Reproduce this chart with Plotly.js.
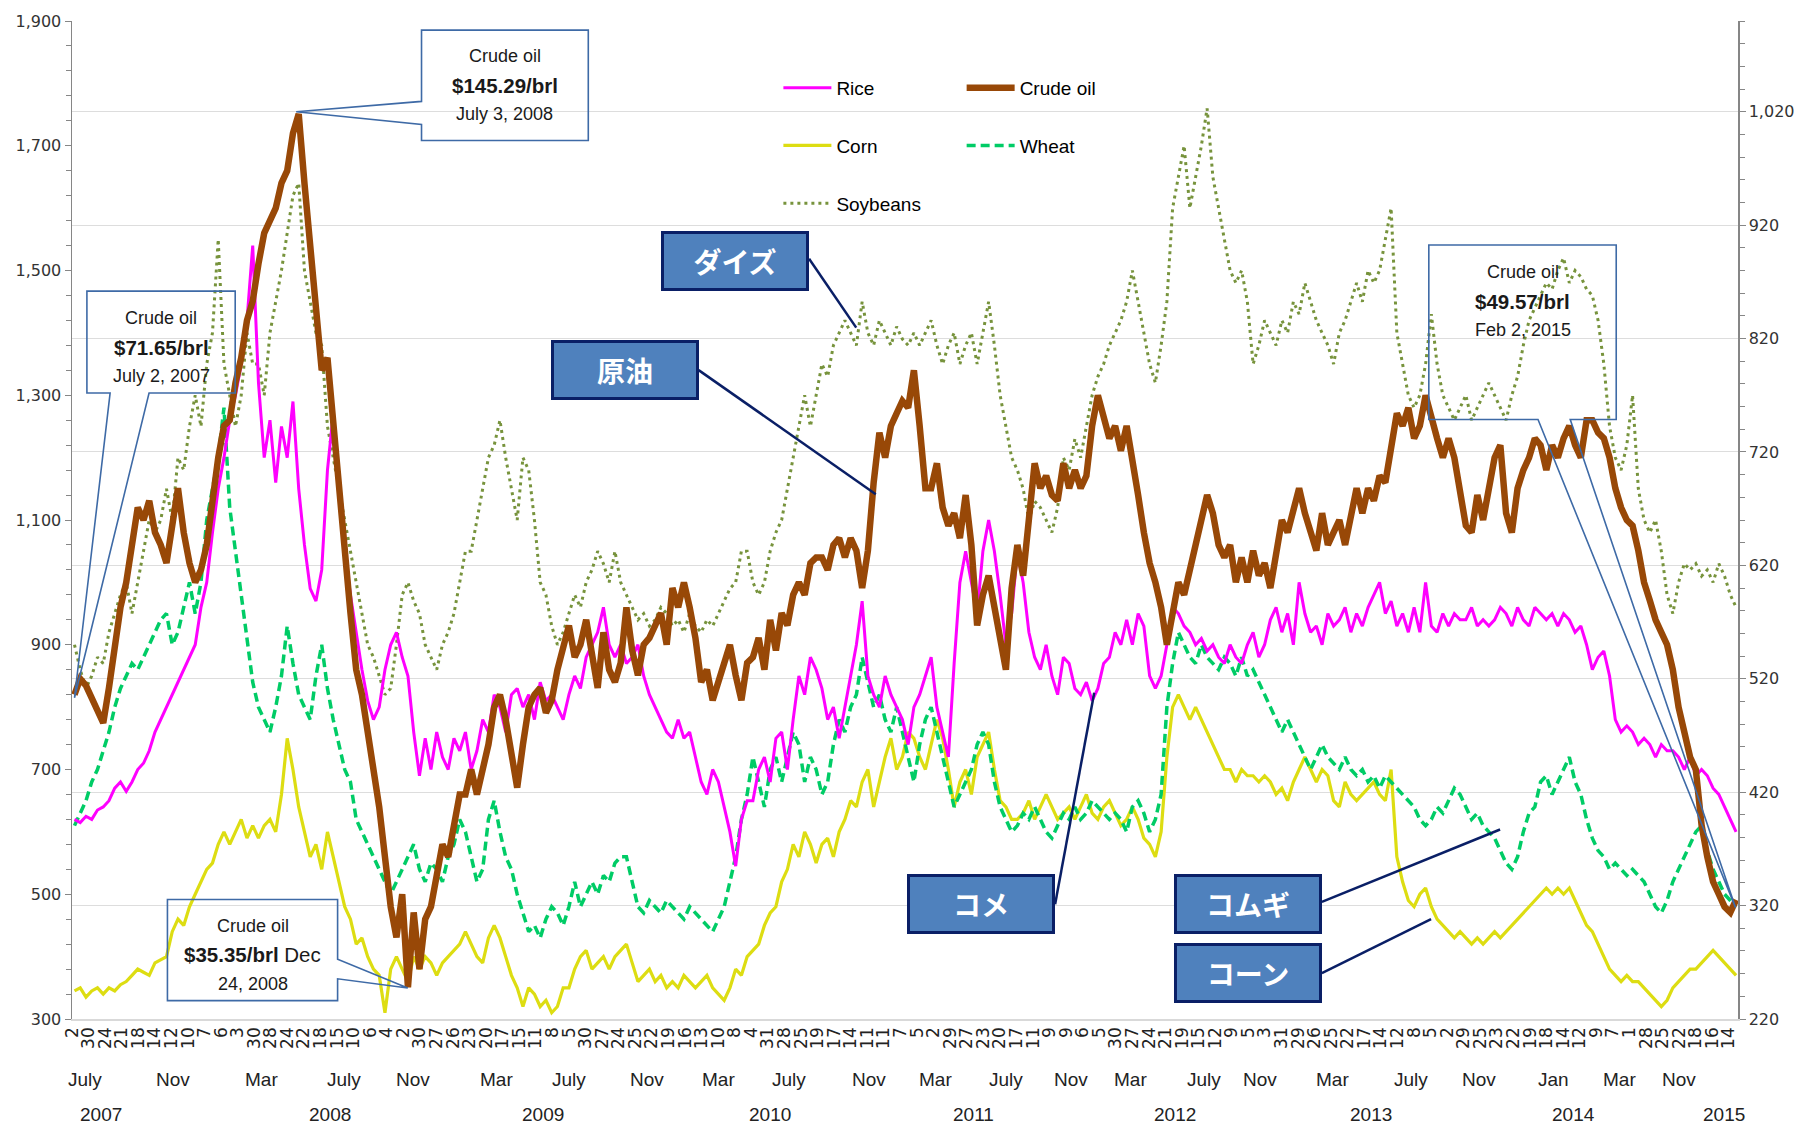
<!DOCTYPE html>
<html><head><meta charset="utf-8">
<script src="https://cdn.plot.ly/plotly-3.0.1.min.js"></script>
<style>html,body{margin:0;padding:0;background:#fff;} #chart{width:1802px;height:1126px;}</style>
</head><body><div id="chart"></div>
<script>
// ---- tick labels (day of month, one every 20 trading days) ----
const tickDays = [2,30,24,21,18,14,12,10,7,6,3,30,28,24,22,18,15,10,6,4,2,30,27,26,23,20,17,15,11,8,5,30,27,24,
  25,22,19,16,13,10,8,4,31,28,25,19,17,14,11,11,7,
  5,2,29,27,23,20,17,11,9,9,6,5,30,27,24,21,19,
  15,12,9,5,3,31,29,26,25,22,17,14,12,8,5,2,29,
  25,23,22,19,18,14,12,9,7,1,28,25,22,18,16,14];
const monthLabels = ['July','Nov','Mar','July','Nov','Mar','July','Nov','Mar','July','Nov','Mar','July','Nov','Mar','July','Nov','Mar','July','Nov','Jan','Mar','Nov','Feb'];
const yearLabels = ['2007','2008','2009','2010','2011','2012','2013','2014','2015'];

// ---- series (weekly-ish samples, left axis: Rice, Corn, Wheat, Soybeans; right axis: Crude oil) ----
const rice = [620,615,625,620,635,640,650,670,680,665, 680,700,710,730,760,780,800,820,840,860,
 880,900,960,1000,1080,1150,1200,1260,1300,1350, 1420,1540,1320,1200,1260,1160,1250,1200,1290,1150,
 1060,990,970,1020,1180,1270,1150,1050,980,920, 860,810,780,800,860,900,920,880,850,760,
 690,750,700,760,720,700,750,730,760,700, 730,780,760,820,800,760,820,830,800,820,
 780,840,810,820,800,780,820,850,830,880, 900,920,960,900,880,900,870,880,900,850,
 820,800,780,760,750,780,750,760,720,680, 660,700,680,640,600,545,620,650,650,700,
 720,680,750,760,700,780,850,820,880,860, 830,780,800,750,800,850,900,970,850,820,
 800,850,820,800,780,740,800,820,850,880, 800,760,720,870,1000,1050,1000,950,1050,1100,
 1050,980,900,950,1050,1000,920,880,860,900, 850,820,880,870,830,820,840,810,830,870,
 880,920,900,940,900,950,930,850,830,850, 900,960,950,930,920,900,910,890,900,880,
 870,900,880,870,900,920,880,900,940,960, 920,950,900,1000,950,920,930,900,950,930,
 940,960,920,950,930,960,980,1000,950,970, 930,950,920,960,920,1000,930,920,950,930,
 950,940,940,960,930,940,930,940,960,950, 930,960,940,930,960,950,940,950,930,950,
 940,920,930,900,860,880,890,850,780,760, 770,760,740,750,740,720,740,730,730,720,
 700,720,690,700,690,670,660,640,620,600];
const crudeOil = [506,520,514,503,490,481,512,550,583,605, 638,671,660,677,649,638,622,655,688,649,
 622,605,616,638,682,715,743,748,781,803, 836,853,886,913,924,935,957,968,1001,1018,
 957,902,836,792,803,743,688,627,578,528, 506,473,440,407,363,319,292,330,248,314,
 264,308,319,347,374,363,391,418,418,440, 418,440,462,495,506,484,451,424,462,495,
 506,512,490,501,528,550,567,539,550,572, 539,512,561,528,517,534,583,545,523,550,
 556,567,578,550,600,583,605,583,556,517, 528,501,517,534,550,523,501,534,539,556,
 528,572,545,578,567,594,605,594,622,627, 627,616,638,644,627,644,633,600,633,693,
 737,715,743,754,765,759,792,743,688,688, 710,671,655,666,644,682,638,567,594,611,
 583,556,528,600,638,611,666,710,688,699, 682,677,710,688,704,688,699,743,770,748,
 732,743,721,743,715,682,649,622,605,583, 550,578,605,594,616,638,660,682,666,638,
 627,638,605,627,605,633,611,622,600,633, 660,649,671,688,666,649,633,666,638,649,
 660,638,666,688,666,688,677,699,693,726, 754,743,759,732,743,770,748,732,715,732,
 715,688,655,649,682,660,688,715,726,666, 649,688,704,715,732,726,704,726,715,732,
 743,726,715,748,748,737,732,715,688,671, 660,655,633,605,589,572,561,550,528,495,
 473,451,440,391,363,341,330,319,314,325];
const corn = [345,350,335,345,350,340,350,345,355,360, 370,380,375,370,390,395,400,440,460,450,
 480,500,520,540,550,580,600,580,600,620, 590,610,590,610,620,600,660,750,700,640,
 600,560,580,540,600,560,520,480,460,420, 430,400,380,370,310,380,400,380,360,400,
 380,400,390,370,390,400,410,420,440,420, 400,390,430,450,430,400,370,350,320,350,
 340,320,330,310,320,350,350,380,400,410, 380,390,400,380,400,410,420,390,360,370,
 380,360,370,350,360,350,370,360,350,360, 370,350,340,330,350,380,370,400,410,420,
 450,470,480,520,540,580,560,600,580,550, 580,590,560,600,620,650,640,680,700,640,
 680,720,750,700,720,760,750,720,700,740, 780,750,700,640,680,700,660,720,740,760,
 700,650,640,620,620,630,650,620,640,660, 640,620,630,640,620,640,660,630,620,640,
 650,630,610,620,640,620,590,580,560,600, 720,800,820,800,780,800,780,760,740,720,
 700,700,680,700,690,690,680,690,680,660, 670,650,680,700,720,700,680,700,690,650,
 640,680,660,650,660,670,680,660,650,700, 560,520,490,480,500,510,480,460,450,440,
 430,440,430,420,430,420,430,440,430,440, 450,460,470,480,490,500,510,500,510,500,
 510,490,470,450,440,420,400,380,370,360, 370,360,360,350,340,330,320,330,350,360,
 370,380,380,390,400,410,400,390,380,370];
const wheat = [610,630,650,680,700,730,760,800,830,850, 870,860,880,900,920,940,950,900,920,960,
 1000,950,1000,1100,1150,1200,1280,1120,1050,980, 900,840,800,780,760,800,850,930,870,820,
 800,780,850,900,830,780,740,700,680,620, 600,580,560,540,520,500,520,540,560,580,
 540,520,550,540,520,560,580,620,600,560, 520,540,620,650,600,560,540,500,470,440,
 450,430,460,480,470,450,480,520,480,500, 520,500,530,520,550,560,560,520,480,470,
 490,480,470,490,480,470,460,480,470,460, 450,440,460,480,520,560,620,660,720,680,
 640,700,720,680,720,760,740,680,720,700, 660,680,740,780,760,800,820,880,840,800,
 820,780,760,800,760,720,680,740,780,800, 760,720,680,640,660,680,700,740,760,740,
 680,640,620,600,610,630,620,640,620,600, 590,610,630,620,640,620,630,650,640,630,
 620,630,620,600,640,650,630,600,620,660, 800,870,920,900,880,870,900,880,870,860,
 880,870,850,880,850,860,840,820,800,780, 760,780,760,740,720,700,720,740,720,710,
 700,720,700,690,700,680,690,670,690,680, 670,660,650,640,620,610,620,640,630,650,
 670,660,640,620,630,610,600,590,570,550, 540,560,600,630,640,680,690,660,680,700,
 720,680,660,620,590,570,560,540,550,540, 530,540,530,520,500,480,470,490,520,540,
 560,580,600,610,570,540,520,500,490,480];
const soybeans = [900,860,830,850,880,870,920,950,980,1000, 950,1000,1050,1100,1080,1100,1150,1100,1200,1180,
 1250,1300,1250,1350,1400,1550,1350,1300,1250,1300, 1400,1350,1350,1300,1400,1450,1500,1560,1620,1640,
 1500,1450,1400,1380,1250,1200,1150,1100,1050,1000, 950,900,880,850,820,830,900,980,1000,970,
 950,900,880,860,900,920,950,1000,1050,1050, 1100,1150,1200,1220,1260,1200,1150,1100,1200,1180,
 1100,1000,980,930,900,920,950,980,960,1000, 1020,1050,1030,1000,1050,1000,980,960,940,950,
 930,940,960,950,930,940,920,950,930,920, 940,930,950,970,990,1000,1050,1050,1000,980,
 1000,1050,1080,1100,1150,1200,1250,1300,1250,1300, 1350,1330,1380,1400,1420,1400,1380,1450,1400,1380,
 1420,1400,1380,1410,1390,1380,1400,1380,1400,1420, 1380,1350,1380,1400,1350,1380,1400,1350,1400,1450,
 1380,1300,1250,1200,1180,1150,1100,1130,1120,1100, 1080,1120,1200,1180,1230,1200,1250,1300,1330,1350,
 1380,1400,1420,1450,1500,1450,1400,1350,1320,1380, 1450,1600,1650,1700,1600,1650,1700,1760,1650,1600,
 1550,1500,1480,1500,1450,1350,1380,1420,1400,1380, 1420,1400,1450,1430,1480,1450,1420,1400,1380,1350,
 1400,1420,1450,1480,1450,1500,1480,1500,1550,1600, 1400,1350,1300,1280,1300,1350,1430,1350,1300,1280,
 1260,1280,1300,1260,1280,1300,1320,1300,1280,1260, 1300,1330,1380,1420,1440,1460,1480,1470,1500,1520,
 1480,1500,1490,1470,1460,1420,1350,1250,1200,1180, 1220,1300,1150,1100,1080,1100,1050,980,950,1000,
 1030,1020,1030,1010,1020,1000,1030,1010,980,960];

// ---- category positions: trading-day index; ticks every 20 trading days ----
const TICK_EVERY = 20, SAMPLE_STEP = 6.94, SAMPLE_START = 3, X_MAX = 2011;
const xs = n => Array.from({length:n}, (_, j) => SAMPLE_START + j*SAMPLE_STEP);
const tickvals = tickDays.map((_, i) => i*TICK_EVERY);
const monthAt = [0.76,6.1,11.44,16.4,20.6,25.6,30.0,34.7,39.0,43.3,48.1,52.1,56.4,60.3,63.9,68.3,71.7,76.1,80.8,84.9,89.4,93.4,97.0,100.8];
const yearAt = [1.73,15.6,28.4,42.1,54.4,66.6,78.4,90.6,99.7];

const SANS = 'Liberation Sans, Arial, sans-serif';
const LEG_FONT = {family:SANS, size:19, color:'#000'};
const traces = [
  {name:'Soybeans', y:soybeans, line:{color:'#77933C', width:3, dash:'3px,4px'}, legend:'legend', legendrank:3},
  {name:'Corn', y:corn, line:{color:'#DDDD12', width:3.2}, legend:'legend', legendrank:2},
  {name:'Wheat', y:wheat, line:{color:'#00CC66', width:3.5, dash:'9px,5px'}, legend:'legend2', legendrank:2},
  {name:'Rice', y:rice, line:{color:'#FF00FF', width:3}, legend:'legend', legendrank:1},
  {name:'Crude oil', y:crudeOil, yaxis:'y2', line:{color:'#984807', width:6.5}, legend:'legend2', legendrank:1}
].map(t => Object.assign({type:'scatter', mode:'lines', x:xs(t.y.length), legendgroup:t.name, hoverinfo:'skip'}, t));

const annotations = [];
monthLabels.forEach((m, i) => annotations.push({xref:'x', yref:'paper', x:monthAt[i]*TICK_EVERY, y:-0.061, text:m, showarrow:false, font:{family:SANS, size:19, color:'#222'}, yanchor:'middle'}));
yearLabels.forEach((m, i) => annotations.push({xref:'x', yref:'paper', x:yearAt[i]*TICK_EVERY, y:-0.096, text:m, showarrow:false, font:{family:SANS, size:19, color:'#222'}, yanchor:'middle'}));

// callout boxes (Crude oil), three text lines each
const LINE_GAP = 46.5; // left-axis units between text lines
const LINE_SIZE = [18, 20.5, 18];
const callouts = [
  {x:107.5, y:1377, lines:['Crude oil','<b>$71.65/brl</b>','July 2, 2007'],
   path:'M18,1467 L197,1467 L197,1303.5 L93,1303.5 L3,815 L46,1303.5 L18,1303.5 Z'},
  {x:522.5, y:1797, lines:['Crude oil','<b>$145.29/brl</b>','July 3, 2008'],
   path:'M421.9,1885.3 L623.2,1885.3 L623.2,1708.5 L421.9,1708.5 L421.9,1734.3 L270.6,1754.5 L421.9,1771.1 Z'},
  {x:217.9, y:403, lines:['Crude oil','<b>$35.35/brl</b> Dec','24, 2008'],
   path:'M115.2,491.5 L320.6,491.5 L320.6,395.7 L405.3,349.7 L320.6,364.4 L320.6,329.5 L115.2,329.5 Z'},
  {x:1751, y:1451, lines:['Crude oil','<b>$49.57/brl</b>','Feb 2, 2015'],
   path:'M1637.8,1541 L1864,1541 L1864,1261.1 L1808.5,1261.1 L2008,478.6 L1769.6,1261.1 L1637.8,1261.1 Z'}
];
const shapes = [];
callouts.forEach(c => {
  shapes.push({type:'path', xref:'x', yref:'y', path:c.path, line:{color:'#3E6AA6', width:1.6}, fillcolor:'rgba(0,0,0,0)', layer:'above'});
  c.lines.forEach((t, k) => annotations.push({xref:'x', yref:'y', x:c.x, y:c.y + (1-k)*LINE_GAP, text:t, showarrow:false,
    font:{family:SANS, size:LINE_SIZE[k], color:'#1a1a1a'}, align:'center', yanchor:'middle'}));
});

// Japanese labels
const JP = [
  {x:800.1, y:1515, text:'ダイズ', line:[889.7,1518.9,946.6,1408.4]},
  {x:667.6, y:1341, text:'原油', line:[756.4,1340.3,970.2,1141.4]},
  {x:1097.8, y:484, text:'コメ', line:[1186.7,484.1,1233.9,822.9]},
  {x:1419.8, y:484, text:'コムギ', line:[1508.7,487.8,1723.8,603.8]},
  {x:1419.8, y:374, text:'コーン', line:[1508.7,373.6,1640.5,460.2]}
];
JP.forEach(j => {
  shapes.push({type:'line', xref:'x', yref:'y', x0:j.line[0], y0:j.line[1], x1:j.line[2], y1:j.line[3], line:{color:'#0A1F66', width:2.5}, layer:'above'});
  annotations.push({xref:'x', yref:'y', x:j.x, y:j.y, text:'<b>'+j.text+'</b>', showarrow:false,
    font:{family:'Noto Sans CJK JP, sans-serif', size:28, color:'#fff'}, bgcolor:'#4F81BD', bordercolor:'#0A1F66', borderwidth:3, borderpad:0, width:142, height:54, align:'center', valign:'middle'});
});

const TICKFONT = {family:'DejaVu Sans, Verdana, sans-serif', size:16, color:'#333'};
const layout = {
  width:1802, height:1126, margin:{l:72, r:64, t:21, b:107},
  paper_bgcolor:'#fff', plot_bgcolor:'#fff', showlegend:true,
  xaxis:{range:[0, X_MAX], tickmode:'array', tickvals:tickvals, ticktext:tickDays.map(String), tickangle:-90,
    tickfont:{family:'DejaVu Sans, Verdana, sans-serif', size:17, color:'#222'}, ticks:'', showgrid:false, zeroline:false,
    showline:true, linecolor:'#D9D9D9', linewidth:1.5},
  yaxis:{range:[300,1900], tick0:300, dtick:200, tickformat:',d', tickfont:TICKFONT, ticks:'outside', ticklen:6, tickcolor:'#868686',
    showline:true, linecolor:'#868686', linewidth:1.5, showgrid:false, zeroline:false,
    minor:{tick0:300, dtick:40, ticks:'outside', ticklen:5, tickcolor:'#868686', showgrid:false}},
  yaxis2:{range:[220,1100], tick0:220, dtick:100, tickformat:',d', tickfont:TICKFONT, ticks:'outside', ticklen:6, tickcolor:'#868686',
    overlaying:'y', side:'right', showline:true, linecolor:'#868686', linewidth:1.5, showgrid:true, gridcolor:'#DDDDDD', gridwidth:1, zeroline:false,
    minor:{tick0:220, dtick:20, ticks:'outside', ticklen:5, tickcolor:'#868686', showgrid:false}},
  legend:{x:0.424, y:0.952, xanchor:'left', yanchor:'top', font:LEG_FONT, itemwidth:48, traceorder:'grouped', tracegroupgap:30, bgcolor:'rgba(0,0,0,0)'},
  legend2:{x:0.534, y:0.952, xanchor:'left', yanchor:'top', font:LEG_FONT, itemwidth:48, traceorder:'grouped', tracegroupgap:30, bgcolor:'rgba(0,0,0,0)'},
  annotations:annotations, shapes:shapes
};
Plotly.newPlot('chart', traces, layout, {staticPlot:true, displayModeBar:false});
</script></body></html>
